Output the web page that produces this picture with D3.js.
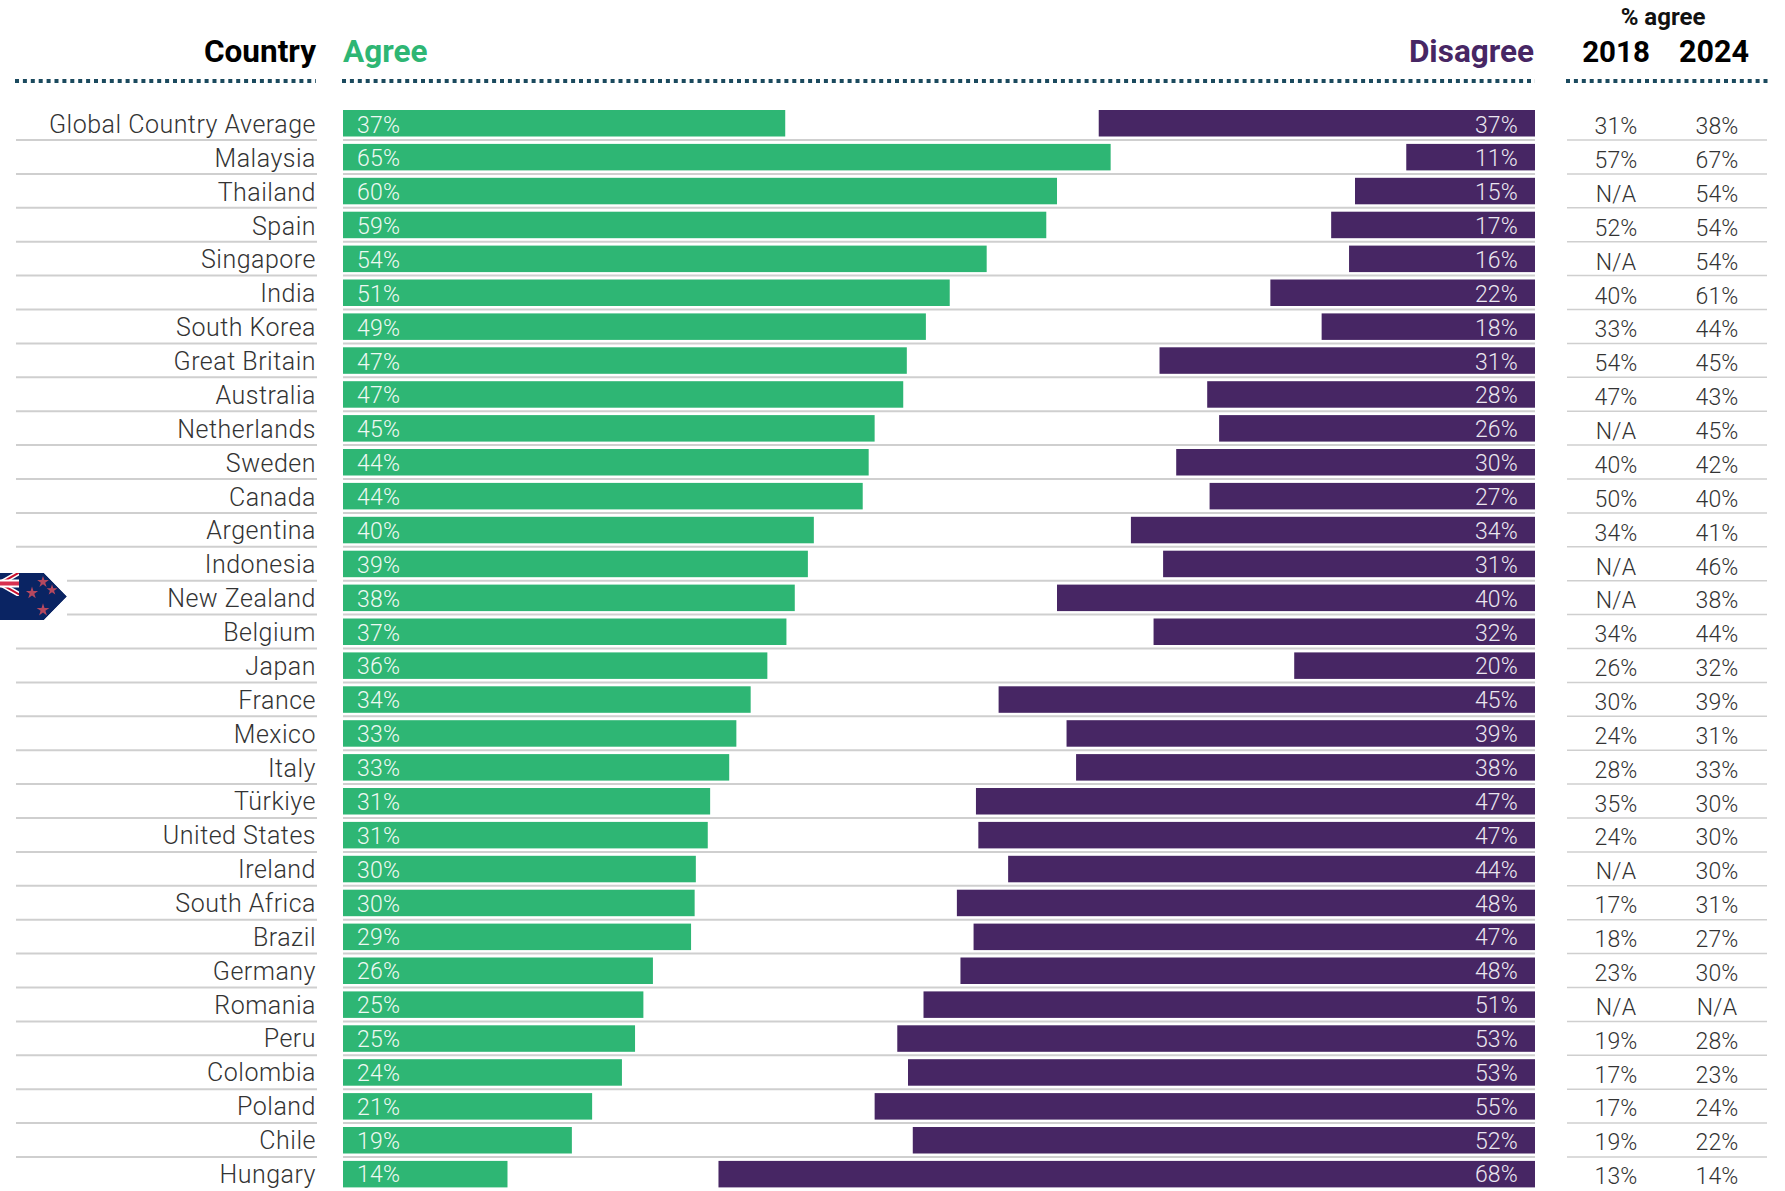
<!DOCTYPE html>
<html><head><meta charset="utf-8">
<script src="https://cdn.jsdelivr.net/npm/d3@7"></script>
<style>html,body{margin:0;background:#fff}svg{display:block}text{font-family:Roboto,sans-serif}</style>
</head><body><svg id="c" width="1785" height="1191"></svg>
<script>
const countries=["Global Country Average","Malaysia","Thailand","Spain","Singapore","India","South Korea","Great Britain","Australia","Netherlands","Sweden","Canada","Argentina","Indonesia","New Zealand","Belgium","Japan","France","Mexico","Italy","Türkiye","United States","Ireland","South Africa","Brazil","Germany","Romania","Peru","Colombia","Poland","Chile","Hungary"];
const agree=[37.1,64.4,59.9,59.0,54.0,50.9,48.9,47.3,47.0,44.6,44.1,43.6,39.5,39.0,37.9,37.2,35.6,34.2,33.0,32.4,30.8,30.6,29.6,29.5,29.2,26.0,25.2,24.5,23.4,20.9,19.2,13.8];
const disagree=[36.6,10.8,15.1,17.1,15.6,22.2,17.9,31.5,27.5,26.5,30.1,27.3,33.9,31.2,40.1,32.0,20.2,45.0,39.3,38.5,46.9,46.7,44.2,48.5,47.1,48.2,51.3,53.5,52.6,55.4,52.2,68.5];
const agreeLabels=[37,65,60,59,54,51,49,47,47,45,44,44,40,39,38,37,36,34,33,33,31,31,30,30,29,26,25,25,24,21,19,14];
const disagreeLabels=[37,11,15,17,16,22,18,31,28,26,30,27,34,31,40,32,20,45,39,38,47,47,44,48,47,48,51,53,53,55,52,68];
const y2018=["31%","57%","N/A","52%","N/A","40%","33%","54%","47%","N/A","40%","50%","34%","N/A","N/A","34%","26%","30%","24%","28%","35%","24%","N/A","17%","18%","23%","N/A","19%","17%","17%","19%","13%"];
const y2024=["38%","67%","54%","54%","54%","61%","44%","45%","43%","45%","42%","40%","41%","46%","38%","44%","32%","39%","31%","33%","30%","30%","30%","31%","27%","30%","N/A","28%","23%","24%","22%","14%"];
const GREEN="#2eb674",PURPLE="#472664",DOT="#1b4a5e",RULE="#cfcfcf",TXT="#333333";
const svg=d3.select("#c");
const L=343,R=1535;
const x=d3.scaleLinear().domain([0,100]).range([0,R-L]);
const y=d3.scaleBand().domain(countries).range([110,110+33.9*31+26.5]).paddingInner(1-26.5/33.9).paddingOuter(0);
const bh=y.bandwidth();

const rows=countries.slice(0,-1);
const ruleY=c=>y(c)+30;
const rules=(x1,x2,col,w)=>svg.append("g").selectAll("line").data(rows).join("line")
 .attr("x1",x1).attr("x2",x2).attr("y1",ruleY).attr("y2",ruleY).attr("stroke",col).attr("stroke-width",w);
rules(c=>(c==="Indonesia"||c==="New Zealand")?67:16,317,RULE,2);
rules(L,R,RULE,2);
rules(1567,1767,RULE,1.5);

svg.append("g").selectAll("rect").data(countries).join("rect")
 .attr("x",L).attr("y",y).attr("height",bh).attr("fill",GREEN)
 .attr("width",(c,i)=>x(agree[i]));
svg.append("g").selectAll("rect").data(countries).join("rect")
 .attr("x",(c,i)=>R-x(disagree[i])).attr("y",y).attr("height",bh).attr("fill",PURPLE)
 .attr("width",(c,i)=>x(disagree[i]));

const rowText=(arr,xp,anchor,fill,size,weight,dy,ls)=>svg.append("g").selectAll("text").data(arr).join("text")
 .attr("x",xp).attr("y",(d,i)=>110+i*33.87+dy).attr("text-anchor",anchor).attr("fill",fill)
 .attr("font-size",size).attr("font-weight",weight).attr("letter-spacing",ls).text(d=>d);
rowText(countries,316,"end",TXT,25,300,23,0.5);
rowText(agreeLabels.map(v=>v+"%"),357,"start","#eef9f3",23,300,22.5,0.2);
rowText(disagreeLabels.map(v=>v+"%"),1518,"end","#ebe6f0",23,300,22.5,0.2);
rowText(y2018,1616,"middle",TXT,23,300,24.2,0.2);
rowText(y2024,1717,"middle",TXT,23,300,24.2,0.2);

const head=(t,xp,anchor,fill,yy=62,size=31.5,w=700)=>svg.append("text").attr("x",xp).attr("y",yy).attr("text-anchor",anchor).attr("fill",fill).attr("font-size",size).attr("font-weight",w).text(t);
head("Country",316,"end","#000");
head("Agree",343,"start",GREEN);
head("Disagree",1534,"end",PURPLE);
head("2018",1616,"middle","#000",62,29.5);
head("2024",1714,"middle","#000",62,30.5);
head("% agree",1663,"middle","#111",25,24,700);
[[15,316],[342,1535],[1566,1769]].forEach(([a,b])=>svg.append("line").attr("x1",a).attr("x2",b).attr("y1",81).attr("y2",81).attr("stroke",DOT).attr("stroke-width",4).attr("stroke-dasharray","4 3.9"));

// New Zealand flag tag
const fy=573,fh=47;
const defs=svg.append("defs");
const shape=`M0,${fy}H44L67,${fy+fh/2}L44,${fy+fh}H0Z`;
defs.append("clipPath").attr("id","fl").append("path").attr("d",shape);
defs.append("clipPath").attr("id","uj").append("rect").attr("x",-5).attr("y",fy).attr("width",24).attr("height",23);
const f=svg.append("g").attr("clip-path","url(#fl)");
f.append("path").attr("d",shape).attr("fill","#0a2463");
const u=f.append("g").attr("clip-path","url(#uj)");
[["#fff",5],["#c8102e",2]].forEach(([col,w])=>{
 u.append("path").attr("d",`M-20,${fy-1}L20,${fy+22}M-20,${fy+22}L20,${fy-1}`).attr("stroke",col).attr("stroke-width",w).attr("fill","none");
});
[["#fff",8],["#d9304f",4]].forEach(([col,w])=>{
 u.append("path").attr("d",`M-20,${fy+10.5}H20`).attr("stroke",col).attr("stroke-width",w).attr("fill","none");
});
const star=d3.symbol().type(d3.symbolStar);
[[43,582,42],[32,593,46],[52,590,36],[43,610,50]].forEach(([a,b,s])=>f.append("path").attr("d",star.size(s)()).attr("transform",`translate(${a},${b})`).attr("fill","#b5485f"));
</script></body></html>
